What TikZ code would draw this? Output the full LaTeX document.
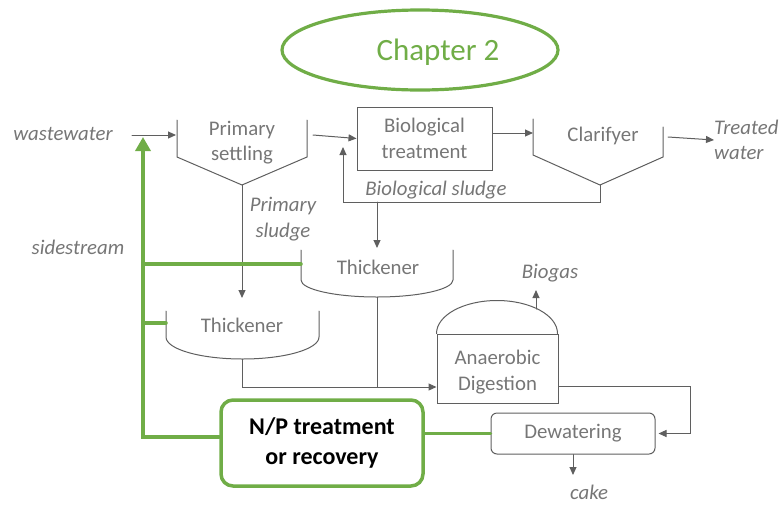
\documentclass[tikz,border=0pt]{standalone}
\usepackage{fontspec}
\setmainfont{Carlito}
\usetikzlibrary{arrows.meta,shapes.geometric}
\definecolor{leaf}{HTML}{70AD47}
\definecolor{linegray}{HTML}{5F5F5F}
\definecolor{textgray}{HTML}{767676}
\begin{document}
\begin{tikzpicture}[x=1pt,y=-1pt,line cap=round]
        % Styles
        \tikzstyle{pipe}=[draw=linegray,line width=1pt]
        \tikzstyle{flow}=[pipe,-{Triangle[length=8pt,width=7pt]}]
        \tikzstyle{recycle}=[draw=leaf,line width=3.5pt]
        \tikzstyle{unitname}=[text=textgray,font=\fontsize{20.8}{25.5}\selectfont,align=center,inner sep=0pt]
        \tikzstyle{streamname}=[unitname,font=\fontsize{20.8}{25.5}\selectfont\itshape]
        \tikzstyle{unitbox}=[draw=linegray,line width=1pt,text=textgray,font=\fontsize{20.8}{25.5}\selectfont,align=center,inner sep=0pt]
        \useasboundingbox (0,0) rectangle (784,504);
        %title
        \node[ellipse,draw=leaf,line width=3.2pt,minimum width=276pt,minimum height=80pt] (chapter) at (420,50) {};
        \node[text=leaf,font=\fontsize{31}{36}\selectfont,inner sep=0pt] (chaptertext) at (438,52) {Chapter 2};
        %settlers
        \draw[pipe] (177,120) -- (177,157) -- (242,185) coordinate(ps out) -- (307,157) -- (307,120);
        \node[unitname] (primary) at (242,142.5) {Primary\\settling};
        \draw[pipe] (533,119) -- (533,155) -- (600,185) coordinate(cl out) -- (663,157) -- (663,127);
        \node[unitname] (clarifyer) at (603,136) {Clarifyer};
        %thickeners
        \draw[pipe] (301,250) -- (301,280) arc[start angle=180,end angle=0,x radius=76,y radius=17] -- (453,250);
        \coordinate (tk1 out) at (377,297);
        \coordinate (tk1 side) at (301,264);
        \node[unitname] (thickener1) at (378,267) {Thickener};
        \draw[pipe] (166,311) -- (166,337) arc[start angle=180,end angle=0,x radius=76.5,y radius=22] -- (319,311);
        \coordinate (tk2 out) at (242.5,359);
        \coordinate (tk2 side) at (166,323);
        \node[unitname] (thickener2) at (242,325) {Thickener};
        %boxes
        \node[unitbox,minimum width=135pt,minimum height=63pt] (bio) at (424.5,138.5) {Biological\\treatment};
        \node[unitbox,minimum width=121pt,minimum height=69pt] (ad) at (497.5,368.5) {\\[-4pt]Anaerobic\\Digestion};
        \draw[pipe] (ad.north west) arc[start angle=180,end angle=360,x radius=60.5,y radius=33];
        \node[unitbox,rounded corners=6pt,minimum width=164pt,minimum height=41pt] (dw) at (573,433.5) {Dewatering};
        \node[draw=leaf,line width=3.5pt,rounded corners=12pt,minimum width=202pt,minimum height=86pt,
              font=\fontsize{24}{30}\selectfont\bfseries,align=center,inner sep=0pt] (np) at (322,443) {N/P treatment\\or recovery};
        %stream names
        \node[streamname] (wastewater) at (63,134) {wastewater};
        \node[streamname,anchor=west,align=left] (treated) at (714,140) {Treated\\water};
        \node[streamname] (psludge) at (283,219) {Primary\\sludge};
        \node[streamname] (bsludge) at (436,190) {Biological sludge};
        \node[streamname] (sidestream) at (78,247) {sidestream};
        \node[streamname] (biogas) at (550,273) {Biogas};
        \node[streamname] (cake) at (589,492) {cake};
        %flows
        \coordinate (ps in) at (176,135);
        \draw[flow] (132,135) -- (ps in);
        \draw[flow] (313,135) -- (bio.west);
        \draw[flow] (bio.east |- 0,133) -- (533,133);
        \draw[flow] (668,137) -- (treated.west);
        \coordinate (ras tip) at (343,147);
        \draw[flow] (cl out) -- (600,202) -| (ras tip);
        \draw[flow] (377,202) -- (377,248);
        \draw[flow] (ps out) -- (242,298);
        \coordinate (ad in) at (ad.west |- 0,387);
        \draw[pipe] (tk1 out) -- (377,387);
        \draw[flow] (tk2 out) |- (ad in);
        \coordinate (ad out) at (ad.east |- 0,386);
        \draw[flow,shorten >=3pt] (ad out) -| (690,433.5) -- (dw.east);
        \draw[flow] (536,309) -- (536,290);
        \draw[flow] (dw.south) -- (573,475);
        %sidestream
        \coordinate (side top) at (143,137);
        \draw[recycle] (dw.west) -- (dw.west -| np.east);
        \draw[recycle,-{Triangle[length=14pt,width=15pt]}] (np.west |- 0,437) -| (side top);
        \draw[recycle] (tk1 side) -- (tk1 side -| side top);
        \draw[recycle] (tk2 side) -- (tk2 side -| side top);
\end{tikzpicture}
\end{document}
